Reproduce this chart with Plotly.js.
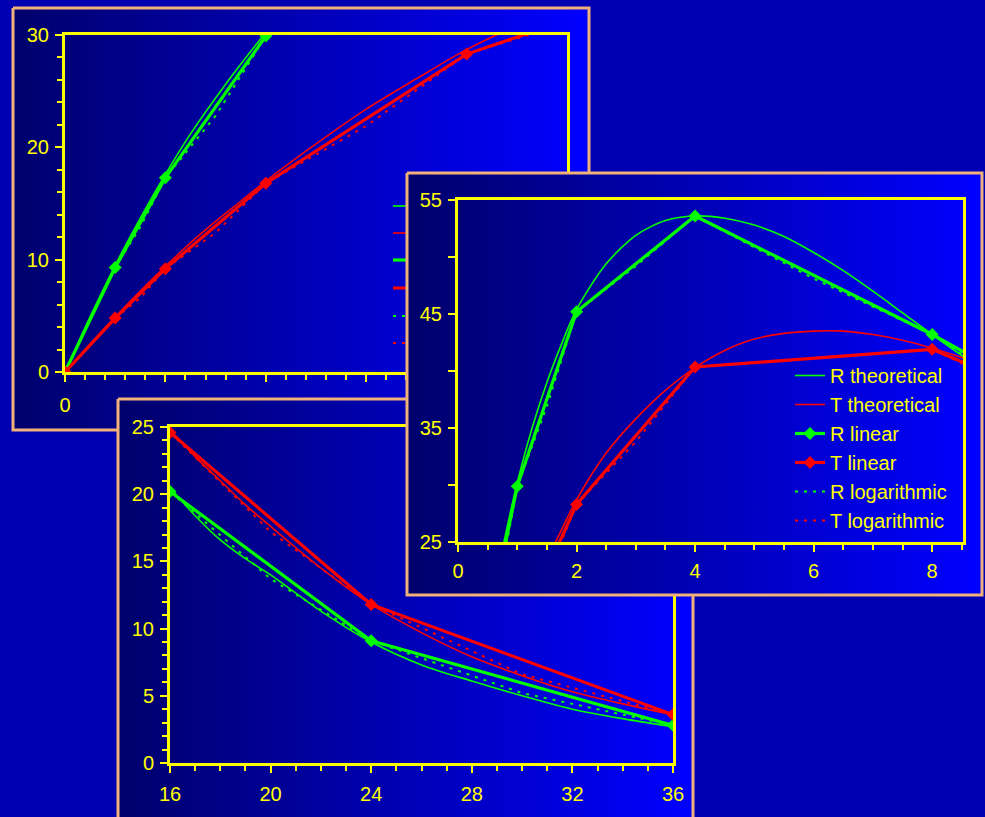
<!DOCTYPE html>
<html>
<head>
<meta charset="utf-8">
<script src="https://cdn.plot.ly/plotly-3.0.1.min.js"></script>
<style>html,body{margin:0;padding:0;background:#0000B2;overflow:hidden;}</style>
</head>
<body>
<div id="chart" style="width:985px;height:817px;"></div>
<script>
// ---------------- DATA ----------------
const seriesNames = ['R theoretical', 'T theoretical', 'R linear', 'T linear', 'R logarithmic', 'T logarithmic'];

// measured points (linear interpolation with markers)
const xPoints = [0, 0.25, 0.5, 1, 2, 4, 8, 16, 24, 36];
const rLinear = [0, 9.3, 17.3, 29.9, 45.2, 53.6, 43.2, 20.2, 9.1, 2.8];
const tLinear = [0, 4.8, 9.2, 16.8, 28.3, 40.35, 41.9, 24.6, 11.8, 3.6];

// theoretical curves
const xTheory = [0, 0.125, 0.25, 0.375, 0.5, 0.625, 0.75, 0.875, 1, 1.25, 1.5, 1.75, 2, 2.5, 3, 3.5, 4, 4.5, 5, 5.5, 6, 6.5, 7, 7.5, 8, 8.6, 9, 12, 16, 17, 18, 19, 20, 22, 24, 26, 28, 30, 32, 34, 36];
const rTheory = [0, 4.9, 9.5, 13.7, 17.6, 21.2, 24.4, 27.4, 30.2, 35.0, 39.0, 42.4, 45.4, 49.4, 51.9, 53.2, 53.6, 53.4, 52.8, 51.8, 50.4, 48.8, 47.0, 45.1, 43.2, 41.0, 39.6, 29.0, 20.5, 18.4, 16.6, 15.2, 14.0, 11.3, 9.0, 7.3, 6.1, 5.0, 4.0, 3.3, 2.7];
const tTheory = [0, 2.5, 4.9, 7.2, 9.4, 11.5, 13.4, 15.2, 17.0, 20.3, 23.4, 26.1, 28.7, 32.8, 35.8, 38.3, 40.3, 41.8, 42.8, 43.3, 43.5, 43.5, 43.2, 42.7, 42.0, 41.0, 40.2, 33.0, 24.8, 22.8, 21.0, 19.2, 17.6, 14.5, 11.8, 9.7, 7.9, 6.5, 5.3, 4.4, 3.6];

// logarithmic interpolation curves
const xLog = [0.25, 0.375, 0.5, 0.75, 1, 1.5, 2, 3, 4, 6, 8, 12, 16, 20, 24, 30, 36];
const rLog = [9.3, 12.9, 17.3, 22.8, 29.9, 36.9, 45.2, 49.2, 53.6, 48.1, 43.2, 29.5, 20.2, 13.7, 9.1, 5.2, 2.8];
const tLog = [4.8, 6.6, 9.2, 12.4, 16.8, 21.9, 28.3, 33.8, 40.35, 41.1, 41.9, 32.1, 24.6, 17.2, 11.8, 6.6, 3.6];

// ---------------- STYLE / GEOMETRY ----------------
const W = 985, H = 817;
const YEL = '#FFFF00', GRN = '#00FF00', RED = '#FF0000', BORDER = '#F0B27A';
const FONT = 'Liberation Sans, Arial, sans-serif';

// panel frames in page pixels (stacking order: A, C, B)
const panels = [
  {id: 'A', box: [13, 8, 589, 430], plot: [65, 35, 567, 372], xStand: 6,
   xr: [0, 2.5], xt0: 0, xdt: 0.5, xmin: 0.1, yr: [0, 30], yt0: 0, ydt: 10, ymin: 2, yminLen: 5},
  {id: 'C', box: [118, 399, 693, 840], plot: [170, 427, 673, 763], xStand: 4,
   xr: [16, 36], xt0: 16, xdt: 4, xmin: 1, yr: [0, 25], yt0: 0, ydt: 5, ymin: 1, yminLen: 5},
  {id: 'B', box: [407, 173, 982, 595], plot: [458, 200, 963, 542], xStand: 2,
   xr: [0, 8.52], xt0: 0, xdt: 2, xmin: 0.5, yr: [25, 55], yt0: 25, ydt: 10, ymin: 5, yminLen: 7}
];

const traces = [];
const layout = {
  width: W, height: H,
  margin: {l: 0, r: 0, t: 0, b: 0, pad: 0},
  paper_bgcolor: '#0000B2',
  plot_bgcolor: 'rgba(0,0,0,0)',
  font: {family: FONT, color: YEL, size: 20},
  showlegend: true,
  legend: {
    x: 790 / W, y: 1 - 356 / H, xanchor: 'left', yanchor: 'top',
    bgcolor: 'rgba(0,0,0,0)', borderwidth: 0,
    font: {family: FONT, color: YEL, size: 20},
    traceorder: 'normal', itemclick: false, itemdoubleclick: false
  },
  hovermode: false
};

function axName(n) { return n === 1 ? '' : String(n); }

panels.forEach((p, i) => {
  const bgN = 2 * i + 1, chN = 2 * i + 2;
  const bx = 'x' + axName(bgN), by = 'y' + axName(bgN);
  const cx = 'x' + axName(chN), cy = 'y' + axName(chN);

  // background panel subplot (page-pixel space)
  layout['xaxis' + axName(bgN)] = {domain: [0, 1], range: [0, W], visible: false, fixedrange: true, anchor: by};
  layout['yaxis' + axName(bgN)] = {domain: [0, 1], range: [H, 0], visible: false, fixedrange: true, anchor: bx};
  const [x0, y0, x1, y1] = p.box;
  traces.push({
    type: 'scatter', mode: 'lines', xaxis: bx, yaxis: by,
    x: [x0, x1, x1, x0, x0], y: [y0, y0, y1, y1, y0],
    fill: 'toself',
    fillgradient: {type: 'horizontal', colorscale: [[0, '#00006C'], [1, '#0000FF']]},
    line: {color: BORDER, width: 3},
    hoverinfo: 'skip', showlegend: false
  });

  // legend stubs of panel A's own legend (mostly hidden behind panel B)
  if (p.id === 'A') {
    const stubRows = [206, 233, 260, 288, 316, 343];
    const stubStyles = [
      {color: GRN, width: 1.6}, {color: RED, width: 1.6},
      {color: GRN, width: 3.2}, {color: RED, width: 3.2},
      {color: GRN, width: 2, dash: '3px,6px'}, {color: RED, width: 2, dash: '3px,6px'}
    ];
    stubRows.forEach((ry, k) => {
      traces.push({type: 'scatter', mode: 'lines', xaxis: bx, yaxis: by,
        x: [393, 425], y: [ry, ry], line: stubStyles[k], hoverinfo: 'skip', showlegend: false});
    });
  }

  // chart subplot
  const [px0, py0, px1, py1] = p.plot;
  const axCommon = {
    showline: true, linecolor: YEL, linewidth: 3, mirror: true,
    showgrid: false, zeroline: false,
    ticks: 'outside', tickcolor: YEL, tickwidth: 2, ticklen: 7,
    tickfont: {family: FONT, color: YEL, size: 20},
    fixedrange: true
  };
  layout['xaxis' + axName(chN)] = Object.assign({}, axCommon, {
    domain: [px0 / W, px1 / W], range: p.xr, anchor: cy,
    tickmode: 'linear', tick0: p.xt0, dtick: p.xdt, ticklabelstandoff: p.xStand,
    minor: {ticks: 'outside', dtick: p.xmin, ticklen: 5, tickcolor: YEL, tickwidth: 2, showgrid: false}
  });
  layout['yaxis' + axName(chN)] = Object.assign({}, axCommon, {
    domain: [1 - py1 / H, 1 - py0 / H], range: p.yr, anchor: cx,
    tickmode: 'linear', tick0: p.yt0, dtick: p.ydt, ticklabelstandoff: 2,
    minor: {ticks: 'outside', dtick: p.ymin, ticklen: p.yminLen, tickcolor: YEL, tickwidth: 2, showgrid: false}
  });

  const show = p.id === 'B';
  const base = {type: 'scatter', xaxis: cx, yaxis: cy, hoverinfo: 'skip', showlegend: show, cliponaxis: true};
  traces.push(Object.assign({}, base, {name: seriesNames[0], mode: 'lines', x: xTheory, y: rTheory,
    line: {color: GRN, width: 1.6, shape: 'spline', smoothing: 0.8}}));
  traces.push(Object.assign({}, base, {name: seriesNames[1], mode: 'lines', x: xTheory, y: tTheory,
    line: {color: RED, width: 1.6, shape: 'spline', smoothing: 0.8}}));
  traces.push(Object.assign({}, base, {name: seriesNames[2], mode: 'lines+markers', x: xPoints, y: rLinear,
    line: {color: GRN, width: 3.2}, marker: {symbol: 'diamond', size: 10, color: GRN}}));
  traces.push(Object.assign({}, base, {name: seriesNames[3], mode: 'lines+markers', x: xPoints, y: tLinear,
    line: {color: RED, width: 3.2}, marker: {symbol: 'diamond', size: 10, color: RED}}));
  traces.push(Object.assign({}, base, {name: seriesNames[4], mode: 'lines', x: xLog, y: rLog,
    line: {color: GRN, width: 2, dash: '3px,6px'}}));
  traces.push(Object.assign({}, base, {name: seriesNames[5], mode: 'lines', x: xLog, y: tLog,
    line: {color: RED, width: 2, dash: '3px,6px'}}));
});

Plotly.newPlot('chart', traces, layout, {staticPlot: true, displayModeBar: false});
</script>
</body>
</html>
